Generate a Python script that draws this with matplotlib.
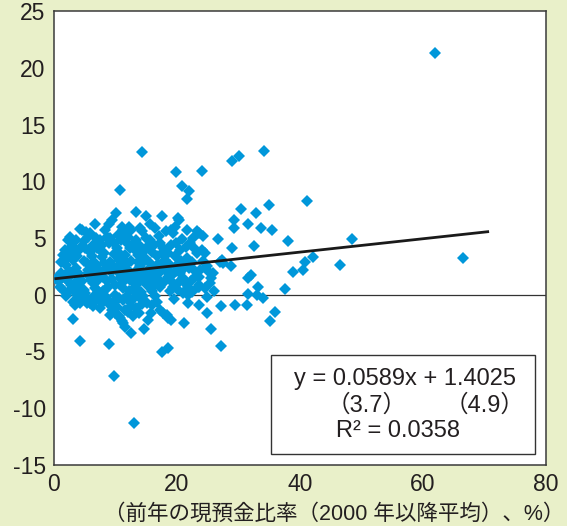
import numpy as np
import matplotlib.pyplot as plt

# (cash ratio of previous year %, y value)
core_pts = [
    (10.1, 7.2), (13.4, 7.25), (15.0, 6.96), (17.6, 6.9), (20.1, 6.75), (20.4, 6.55),
    (21.6, 5.7), (9.4, 6.55), (9.0, 6.25), (6.6, 6.25), (4.2, 5.8), (4.6, 5.7),
    (2.6, 5.1), (2.3, 4.85), (5.9, 5.4), (5.6, 5.1), (8.3, 5.7), (8.6, 5.1),
    (11.0, 6.0), (11.3, 5.7), (11.5, 5.4), (12.2, 6.0), (12.6, 5.7), (14.0, 5.9),
    (14.3, 5.6), (15.6, 6.2), (16.4, 5.9), (19.1, 5.7), (19.4, 5.4), (19.7, 6.0),
    (23.2, 5.6), (24.3, 5.2), (23.6, 5.4), (1.8, 3.96), (1.5, 3.5), (2.1, 3.2),
    (2.9, 3.8), (3.1, 3.1), (3.7, 3.4), (4.8, 4.7), (5.0, 4.1), (4.5, 4.3),
    (5.9, 3.8), (6.4, 4.4), (6.1, 3.4), (7.5, 4.85), (7.8, 4.4), (7.4, 3.96),
    (9.1, 5.0), (9.8, 4.55), (10.2, 4.1), (10.6, 3.7), (11.8, 4.55), (12.4, 4.1),
    (11.5, 3.5), (13.4, 4.85), (14.0, 4.3), (14.5, 3.8), (13.7, 3.5), (15.6, 4.85),
    (16.2, 4.4), (15.9, 3.8), (16.7, 3.4), (17.8, 4.1), (18.6, 3.7), (19.1, 4.4),
    (19.9, 4.55), (20.5, 3.96), (19.7, 3.4), (22.1, 4.55), (22.7, 4.1), (23.2, 3.7),
    (24.0, 3.96), (24.6, 3.7), (21.6, 3.2), (22.4, 2.9), (21.0, 2.8), (24.8, 2.5),
    (25.1, 2.05), (25.9, 1.9), (25.6, 1.5), (25.4, 1.0), (23.7, 2.2), (23.5, 1.6),
    (27.3, 3.1), (27.4, 2.8),
    (0.7, 1.6), (1.2, 1.9), (1.8, 1.5), (2.3, 1.2), (2.9, 1.8), (3.4, 1.0),
    (4.0, 1.5), (4.2, 0.7), (4.5, 1.2), (5.3, 2.8), (5.6, 2.2), (5.9, 1.6),
    (6.4, 1.0), (6.7, 0.6), (6.9, 2.5), (7.5, 2.05), (8.0, 1.6), (8.6, 1.2),
    (8.8, 0.7), (9.1, 2.9), (9.6, 2.5), (10.2, 2.05), (10.7, 1.5), (11.0, 1.0),
    (11.3, 0.6), (11.8, 2.8), (12.1, 2.2), (12.6, 1.8), (12.9, 1.2), (13.2, 0.7),
    (13.7, 2.9), (14.0, 2.5), (14.5, 1.9), (14.8, 1.3), (15.1, 0.9), (15.6, 2.8),
    (16.2, 2.35), (16.4, 1.8), (17.0, 1.3), (17.2, 0.7), (17.8, 2.8), (18.3, 2.2),
    (18.6, 1.6), (19.1, 1.2), (19.4, 0.7), (19.9, 2.5), (20.5, 1.9), (21.0, 1.5),
    (21.3, 1.0), (21.8, 0.7), (22.7, 2.2), (22.9, 1.6), (23.5, 0.9), (21.6, 0.4),
    (0.4, 1.4), (1.2, 2.9), (0.8, 1.2),
    (2.0, 2.6), (3.5, 2.4), (4.8, 3.0), (6.5, 2.9), (7.8, 3.3), (8.4, 2.3),
    (9.7, 3.6), (10.5, 3.1), (11.2, 2.5), (12.6, 3.0), (13.1, 2.0), (14.8, 3.2),
    (15.3, 2.2), (16.9, 2.7), (17.5, 3.7), (18.9, 2.6), (19.4, 1.8), (20.7, 3.0),
    (22.0, 2.4), (24.2, 3.0), (2.7, 0.9), (4.9, 0.4), (6.0, 1.3), (7.2, 1.8),
    (8.0, 0.3), (9.5, 1.4), (10.0, 0.9), (11.7, 1.6), (12.2, 0.3), (13.9, 1.1),
    (14.2, 0.2), (15.8, 1.5), (16.5, 0.9), (18.0, 1.2), (18.8, 0.3), (20.1, 1.0),
    (22.3, 1.2), (24.5, 0.6),
    (3.0, 4.3), (3.6, 4.8), (4.0, 3.9), (5.2, 5.5), (6.8, 5.0), (7.0, 4.1),
    (8.1, 3.7), (8.9, 4.6), (10.4, 5.3), (10.9, 4.8), (12.0, 5.1), (12.9, 4.5),
    (13.2, 3.9), (14.9, 5.0), (15.2, 4.2), (17.0, 5.2), (17.3, 4.6), (18.2, 5.6),
    (18.0, 3.1), (20.8, 4.9), (21.4, 4.2), (22.6, 5.0), (2.4, 2.1), (3.9, 1.9),
    (5.5, 1.9), (6.3, 2.4), (7.0, 1.2), (8.2, 2.8), (9.3, 2.0), (10.8, 2.6),
    (11.5, 1.9), (12.4, 1.3), (13.5, 1.5), (14.3, 2.8), (15.0, 1.7), (16.0, 1.0),
    (17.4, 2.1), (18.5, 1.9), (19.8, 2.1), (20.9, 2.3),
]

spread_pts = [
    (1.0, 0.7), (1.5, 0.4), (3.1, 0.4), (3.7, 0.0), (3.1, -0.6), (3.4, -0.9),
    (4.2, -0.7), (5.0, 0.15), (5.3, -0.3), (5.9, -0.7), (6.4, -1.0), (7.2, 0.3),
    (7.5, -0.15), (8.6, -0.45), (9.1, -0.9), (9.4, -1.3), (9.9, -1.6), (10.5, -1.9),
    (11.0, -2.35), (11.5, -2.8), (11.8, -0.15), (12.4, -0.6), (12.6, -1.0), (12.1, -1.5),
    (12.9, -1.9), (13.4, 0.15), (14.0, -0.3), (14.5, -0.15), (15.1, -0.7), (15.9, 0.3),
    (16.4, -0.15), (16.7, -0.6), (17.2, -1.3), (17.8, -1.6), (18.3, -1.8), (18.6, -2.05),
    (15.7, -1.6), (15.3, -2.2), (14.6, -3.0), (12.5, -3.4), (19.1, -2.2), (21.1, -2.5),
    (21.8, -0.7), (23.5, -0.9), (24.8, -1.6), (25.6, -3.0), (21.0, 0.15), (21.8, 0.0),
    (3.1, -2.1), (5.3, -0.7), (7.5, -1.2), (9.1, -1.8), (10.7, -2.05), (11.3, -2.5),
    (6.1, -0.45), (6.7, 0.0), (8.3, 0.45), (9.9, 0.0), (10.5, -0.3), (23.5, 0.7),
    (4.3, -4.1), (9.0, -4.3), (9.7, -7.2), (13.0, -11.3), (17.5, -5.05), (18.5, -4.7),
    (27.1, -4.55), (27.1, -1.0), (29.5, -0.9), (31.3, -0.9), (35.9, -1.5), (35.1, -2.3),
    (31.5, 0.06), (33.0, 0.0), (34.0, -0.3), (23.4, 0.7),
    (8.5, -0.2), (9.6, -0.6), (10.3, -1.1), (11.2, -0.5), (11.5, -1.3), (12.9, -0.4),
    (13.4, -1.2), (14.3, -0.8), (13.9, -1.6), (7.8, -0.7), (6.8, -0.5), (4.6, -0.2),
    (2.2, 0.2), (1.9, -0.1), (16.0, -0.9), (19.5, -0.4), (20.2, 0.4), (22.5, 0.2),
    (24.9, -0.2), (26.0, 0.3),
]

outlier_pts = [
    (62.0, 21.3), (66.5, 3.2), (48.5, 4.9), (46.5, 2.6), (41.1, 8.3), (42.1, 3.3),
    (40.5, 2.2), (40.8, 2.9), (14.3, 12.6), (10.8, 9.25), (19.8, 10.8), (24.1, 10.9),
    (20.8, 9.6), (21.9, 9.1), (21.6, 8.4), (29.0, 11.8), (30.0, 12.2), (34.2, 12.7),
    (30.4, 7.6), (35.0, 7.9), (32.8, 7.2), (29.2, 6.6), (29.2, 5.9), (31.5, 6.2),
    (33.7, 5.9), (35.4, 5.7), (38.0, 4.7), (32.5, 4.3), (28.9, 4.1), (26.7, 4.9),
    (28.8, 2.5), (38.8, 2.0), (37.5, 0.5), (31.6, 1.5), (32.1, 1.7), (33.2, 0.7),
    (27.0, 2.9),
]

slope = 0.0589
intercept = 1.4025
fit_x = [0.3, 70.5]

x_ticks = [0, 20, 40, 60, 80]
y_ticks = [-15, -10, -5, 0, 5, 10, 15, 20, 25]

bg = "#e9f0c9"
ink = "#231f20"
blue = "#0097da"

plt.rcParams["font.family"] = ["Liberation Sans", "Noto Sans CJK JP"]
plt.rcParams["axes.unicode_minus"] = False

fig = plt.figure(figsize=(5.67, 5.26), dpi=100, facecolor=bg)
ax = fig.add_axes([0.0952, 0.116, 0.868, 0.863])
ax.set_facecolor("white")

pts = np.array(core_pts + spread_pts + outlier_pts)
ax.plot(pts[:, 0], pts[:, 1], linestyle="none", marker="D", ms=6.3,
        color=blue, mew=0, zorder=3)

fx = np.array(fit_x)
ax.plot(fx, slope * fx + intercept, color="#1a1a1a", lw=2.0, zorder=4)
ax.axhline(0, color="#333333", lw=0.9, zorder=2)

ax.set_xlim(0, 80)
ax.set_ylim(-15, 25)
ax.set_xticks(x_ticks)
ax.set_yticks(y_ticks)
ax.tick_params(length=0, labelsize=16.5, labelcolor=ink, pad=6)
for s in ax.spines.values():
    s.set_color("#3a3a3a")
    s.set_linewidth(1.1)

ax.set_xlabel("（前年の現預金比率（2000 年以降平均）、%）", fontsize=15.5,
              color=ink, labelpad=2)
ax.xaxis.set_label_coords(0.57, -0.085)

# regression box
box = plt.Rectangle((0.441, 0.024), 0.537, 0.218, transform=ax.transAxes,
                    facecolor="white", edgecolor="#333333", lw=1.0, zorder=5)
ax.add_patch(box)
ax.text(0.713, 0.189, "y = 0.0589x + 1.4025", transform=ax.transAxes,
        ha="center", va="center", fontsize=17, color=ink, zorder=6)
ax.text(0.636, 0.132, "（3.7）", transform=ax.transAxes,
        ha="center", va="center", fontsize=17, color=ink, zorder=6)
ax.text(0.875, 0.132, "（4.9）", transform=ax.transAxes,
        ha="center", va="center", fontsize=17, color=ink, zorder=6)
ax.text(0.698, 0.075, "R² = 0.0358", transform=ax.transAxes,
        ha="center", va="center", fontsize=17, color=ink, zorder=6)

fig.savefig("out.png", dpi=100, facecolor=bg)
